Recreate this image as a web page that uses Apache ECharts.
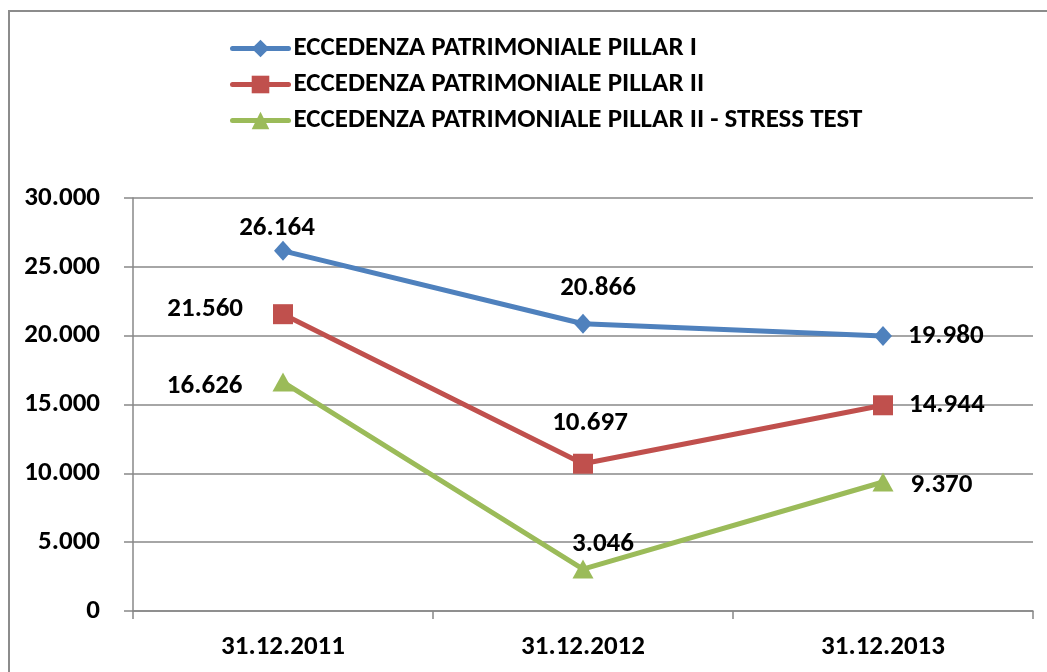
<!DOCTYPE html>
<html>
<head>
<meta charset="utf-8">
<script src="https://cdn.jsdelivr.net/npm/echarts@6/dist/echarts.min.js"></script>
<style>
  html, body { margin: 0; padding: 0; background: #fff; }
  #chart { width: 1047px; height: 672px; }
</style>
</head>
<body>
<div id="chart"></div>
<script>
const categories = ["31.12.2011", "31.12.2012", "31.12.2013"];
const seriesNames = [
  "ECCEDENZA PATRIMONIALE PILLAR I",
  "ECCEDENZA PATRIMONIALE PILLAR II",
  "ECCEDENZA PATRIMONIALE PILLAR II - STRESS TEST"
];
const pillar1 = [26164, 20866, 19980];
const pillar2 = [21560, 10697, 14944];
const stressTest = [16626, 3046, 9370];

const FONT = "Carlito, Lato, sans-serif";
const FS = 27;

function fmt(v) {
  return String(v).replace(/\B(?=(\d{3})+(?!\d))/g, ".");
}

// per point label placement, same order as data
const labelPlacement = [
  [{ position: "top", offset: [-6, 6] }, { position: "top", offset: [15, -7] }, { position: "right", distance: 16 }],
  [{ position: "left", distance: 30, offset: [0, -5] }, { position: "top", offset: [7, -12] }, { position: "right", distance: 16 }],
  [{ position: "left", distance: 30, offset: [0, 4] }, { position: "top", offset: [20, 3] }, { position: "right", distance: 17, offset: [0, 3] }]
];

const styles = [
  { color: "#4F81BD", symbol: "diamond", symbolSize: [18, 20] },
  { color: "#C0504D", symbol: "rect", symbolSize: [20, 20] },
  { color: "#9BBB59", symbol: "triangle", symbolSize: [21, 19] }
];

function makeSeries(name, values, idx) {
  const st = styles[idx];
  return {
    name: name,
    type: "line",
    data: values.map(function (v, i) {
      return { value: v, label: labelPlacement[idx][i] };
    }),
    symbol: st.symbol,
    symbolSize: st.symbolSize,
    showAllSymbol: true,
    lineStyle: { color: st.color, width: 5 },
    itemStyle: { color: st.color },
    label: {
      show: true,
      color: "#000",
      fontFamily: FONT,
      fontWeight: "bold",
      fontSize: FS,
      formatter: function (p) { return fmt(p.value); }
    },
    emphasis: { disabled: true },
    animation: false
  };
}

const chart = echarts.init(document.getElementById("chart"));
chart.setOption({
  animation: false,
  graphic: [{
    type: "rect",
    shape: { x: 9, y: 11, width: 1100, height: 700 },
    style: { fill: "none", stroke: "#8c8c8c", lineWidth: 2 },
    silent: true
  }],
  legend: {
    orient: "vertical",
    left: 230,
    top: 35,
    padding: 0,
    itemWidth: 56,
    itemHeight: 22,
    itemGap: 9,
    data: seriesNames,
    lineStyle: { width: 5, cap: "round" },
    textStyle: {
      color: "#000",
      fontFamily: FONT,
      fontWeight: "bold",
      fontSize: FS
    }
  },
  grid: { left: 133, right: 14, top: 198, bottom: 61 },
  xAxis: {
    type: "category",
    data: categories,
    boundaryGap: true,
    axisLine: { lineStyle: { color: "#888", width: 1.5 } },
    axisTick: { show: true, length: 8, lineStyle: { color: "#888", width: 1.5 } },
    axisLabel: {
      margin: 23,
      color: "#000",
      fontFamily: FONT,
      fontWeight: "bold",
      fontSize: FS
    }
  },
  yAxis: {
    type: "value",
    min: 0,
    max: 30000,
    interval: 5000,
    axisLine: { show: true, lineStyle: { color: "#888", width: 1.5 } },
    axisTick: { show: true, length: 9, lineStyle: { color: "#888", width: 1.5 } },
    splitLine: { lineStyle: { color: "#888", width: 1.5 } },
    axisLabel: {
      margin: 33,
      color: "#000",
      fontFamily: FONT,
      fontWeight: "bold",
      fontSize: FS,
      formatter: fmt
    }
  },
  series: [
    makeSeries(seriesNames[0], pillar1, 0),
    makeSeries(seriesNames[1], pillar2, 1),
    makeSeries(seriesNames[2], stressTest, 2)
  ]
});
</script>
</body>
</html>
